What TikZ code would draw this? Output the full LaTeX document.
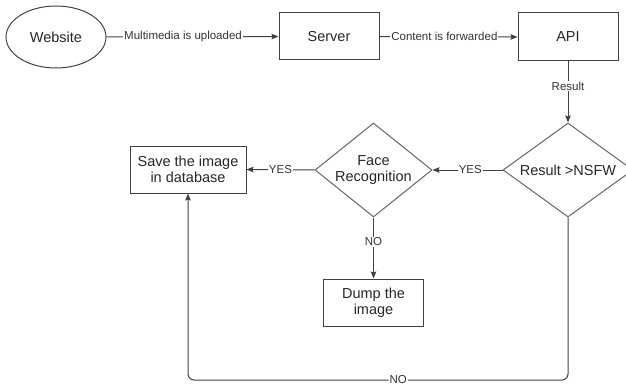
\documentclass[tikz,border=0pt]{standalone}
\usepackage{fontspec}
\setmainfont{Liberation Sans}
\usetikzlibrary{shapes.geometric,arrows.meta}
\begin{document}
\begin{tikzpicture}[x=1pt,y=-1pt,
  line width=1pt,
  every node/.style={text=black!85},
  mainfont/.style={font=\fontsize{14.5}{16.5}\selectfont},
  boxnode/.style={draw=black!75,rectangle,minimum width=100pt,minimum height=47pt,inner sep=0pt,align=center,mainfont},
  decision/.style={draw=black!60,diamond,aspect=1.3,inner sep=0pt,align=center,mainfont},
  conn/.style={draw=black!75,-{Stealth[length=7pt,width=5.5pt,inset=1pt]}},
  lbl/.style={fill=white,inner sep=1pt,font=\fontsize{11.5}{13}\selectfont,text=black!80}
]
\useasboundingbox (0,0) rectangle (626,385);

\node[draw=black!75,ellipse,minimum width=100pt,minimum height=62pt,inner sep=0pt,mainfont] (web) at (56,37) {Website};
\node[boxnode] (server) at (329,36.5) {Server};
\node[boxnode,minimum height=48pt] (api) at (568,37) {API};
\node[decision,minimum width=130pt,minimum height=94pt] (result) at (568,170) {Result >NSFW};
\node[decision,minimum width=117pt,minimum height=94pt] (face) at (373.5,170) {Face\\Recognition};
\node[boxnode,minimum width=116pt] (save) at (188,169.5) {Save the image\\in database};
\node[boxnode] (dump) at (373.5,302.5) {Dump the\\image};

\coordinate (c1) at (568,380);
\coordinate (c2) at (188,380);

\draw[conn] (web.east) -- node[lbl,pos=0.445] {Multimedia is uploaded} (server.west);
\draw[conn] (server.east) -- node[lbl,pos=0.47] {Content is forwarded} (api.west);
\draw[conn] (api.south) -- node[lbl,pos=0.4] {Result} (result.north);
\draw[conn] (result.west) -- node[lbl,pos=0.46] {YES} (face.east);
\draw[conn] (face.west) -- node[lbl,pos=0.5] {YES} (save.east);
\draw[conn] (face.south) -- node[lbl,pos=0.4] {NO} (dump.north);
\draw[conn,rounded corners=6pt] (result.south) -- (c1) -- node[lbl,pos=0.447] {NO} (c2) -- (save.south);
\end{tikzpicture}
\end{document}
